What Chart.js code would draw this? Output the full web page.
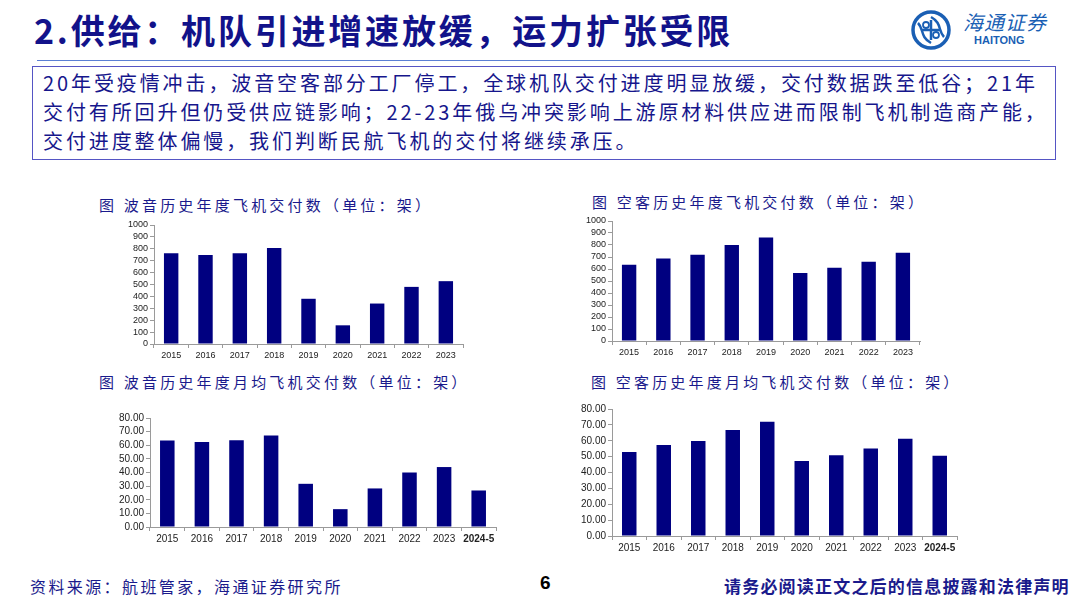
<!DOCTYPE html>
<html>
<head>
<meta charset="utf-8">
<script src="https://cdn.jsdelivr.net/npm/chart.js@4.4.1/dist/chart.umd.min.js"></script>
<style>
  body { margin: 0; width: 1080px; height: 603px; background: #fff; position: relative; overflow: hidden;
         font-family: "Noto Sans CJK SC", "Liberation Sans", sans-serif; }
  .abs { position: absolute; white-space: nowrap; }
  #title { left: 34px; top: 5px; font-size: 34px; font-weight: bold; color: #12128a; letter-spacing: 2.8px; }
  #rule { left: 37px; top: 60px; width: 993px; height: 0; border-top: 1.5px solid #5b7fd4; }
  #box { left: 32px; top: 66px; width: 1024px; height: 94px; border: 1.5px solid #5555c4; box-sizing: border-box; }
  #summary { left: 43px; top: 68px; font-size: 20px; line-height: 29px; color: #16168c; letter-spacing: 2.9px; }
  .ctitle { font-size: 15px; color: #1a1a8c; letter-spacing: 3.2px; }
  canvas { position: absolute; }
  #src { left: 30px; top: 574px; font-size: 16px; color: #1a1a8c; letter-spacing: 2.4px; }
  #page { left: 540px; top: 572px; font-size: 19px; font-weight: bold; color: #000; font-family: "Liberation Sans", sans-serif; }
  #legal { left: 724px; top: 573px; font-size: 17px; font-weight: bold; color: #1a1a8c; letter-spacing: 1.2px; }
  #logoTxt { left: 963px; top: 7px; font-size: 20px; color: #1a5fb4; font-style: italic; letter-spacing: 1px; }
  #logoEn { left: 974px; top: 34px; font-size: 11px; font-weight: bold; color: #1a5fb4; font-family: "Liberation Sans", sans-serif; }
</style>
</head>
<body>
<div class="abs" id="title">2.供给：机队引进增速放缓，运力扩张受限</div>
<svg class="abs" style="left:910px;top:9px" width="42" height="42" viewBox="0 0 42 42">
  <circle cx="21" cy="21" r="18" fill="none" stroke="#1a5fb4" stroke-width="3.5"/>
  <path d="M8 14 C14 20 10 28 21 34 M34 28 C28 22 32 14 21 8" fill="none" stroke="#1a5fb4" stroke-width="2.5"/>
  <path d="M11 21 H31 M21 11 V31" stroke="#1a5fb4" stroke-width="2.5"/>
  <circle cx="16" cy="16" r="3" fill="none" stroke="#1a5fb4" stroke-width="1.8"/>
  <circle cx="26" cy="26" r="3" fill="none" stroke="#1a5fb4" stroke-width="1.8"/>
</svg>
<div class="abs" id="logoTxt">海通证券</div>
<div class="abs" id="logoEn">HAITONG</div>
<div class="abs" id="rule"></div>
<div class="abs" id="box"></div>
<div class="abs" id="summary">20年受疫情冲击，波音空客部分工厂停工，全球机队交付进度明显放缓，交付数据跌至低谷；21年<br>交付有所回升但仍受供应链影响；22-23年俄乌冲突影响上游原材料供应进而限制飞机制造商产能，<br>交付进度整体偏慢，我们判断民航飞机的交付将继续承压。</div>

<div class="abs ctitle" style="left:99px;top:194px">图 波音历史年度飞机交付数（单位：架）</div>
<div class="abs ctitle" style="left:592px;top:191px">图 空客历史年度飞机交付数（单位：架）</div>
<div class="abs ctitle" style="left:99px;top:371px">图 波音历史年度月均飞机交付数（单位：架）</div>
<div class="abs ctitle" style="left:591px;top:371px">图 空客历史年度月均飞机交付数（单位：架）</div>

<canvas id="c1" width="365" height="147" style="left:104px;top:217px"></canvas>
<canvas id="c2" width="364" height="148" style="left:562px;top:213px"></canvas>
<canvas id="c3" width="402" height="137" style="left:100px;top:410px"></canvas>
<canvas id="c4" width="401" height="155" style="left:562px;top:401px"></canvas>

<div class="abs" id="src">资料来源：航班管家，海通证券研究所</div>
<div class="abs" id="page">6</div>
<div class="abs" id="legal">请务必阅读正文之后的信息披露和法律声明</div>

<script>
// 年份
const years = ["2015", "2016", "2017", "2018", "2019", "2020", "2021", "2022", "2023"];
const yearsMonthly = ["2015", "2016", "2017", "2018", "2019", "2020", "2021", "2022", "2023", "2024-5"];

// 年度交付数（架）
const boeingAnnual = [762, 748, 763, 806, 380, 157, 340, 480, 528];
const airbusAnnual = [635, 688, 718, 800, 863, 566, 611, 661, 735];

// 月均交付数（架）
const boeingMonthly = [63.5, 62.3, 63.6, 67.2, 31.7, 13.1, 28.3, 40.0, 44.0, 26.8];
const airbusMonthly = [52.9, 57.3, 59.8, 66.7, 71.9, 47.2, 50.9, 55.1, 61.3, 50.6];

const barColor = "#000080";
const axisColor = "#9a9a9a";

function makeChart(id, labels, values, maxY, step, decimals, fontSize) {
    return new Chart(document.getElementById(id), {
        type: "bar",
        data: {
            labels: labels,
            datasets: [{
                data: values,
                backgroundColor: barColor,
                barPercentage: 0.42,
                categoryPercentage: 1
            }]
        },
        options: {
            responsive: false,
            animation: false,
            layout: { padding: { top: 8, right: 6, left: 0, bottom: 0 } },
            plugins: { legend: { display: false }, tooltip: { enabled: false } },
            scales: {
                x: {
                    grid: { drawOnChartArea: false, offset: true, tickLength: 4, color: axisColor },
                    border: { color: axisColor },
                    ticks: {
                        color: "#222",
                        maxRotation: 0,
                        autoSkip: false,
                        padding: 2,
                        font: (c) => ({
                            family: "Liberation Sans",
                            size: fontSize,
                            weight: (c.tick && c.tick.label === "2024-5") ? "bold" : "normal"
                        })
                    },
                    afterFit: (s) => { s.height = 20; }
                },
                y: {
                    min: 0,
                    max: maxY,
                    grid: { drawOnChartArea: false, tickLength: 4, color: axisColor },
                    border: { color: axisColor },
                    ticks: {
                        stepSize: step,
                        autoSkip: false,
                        color: "#222",
                        padding: 2,
                        font: { family: "Liberation Sans", size: fontSize },
                        callback: (v) => v.toFixed(decimals)
                    },
                    afterFit: (s) => { s.width = 50; }
                }
            }
        }
    });
}

makeChart("c1", years, boeingAnnual, 1000, 100, 0, 9);
makeChart("c2", years, airbusAnnual, 1000, 100, 0, 9);
makeChart("c3", yearsMonthly, boeingMonthly, 80, 10, 2, 10);
makeChart("c4", yearsMonthly, airbusMonthly, 80, 10, 2, 10);
</script>
</body>
</html>
